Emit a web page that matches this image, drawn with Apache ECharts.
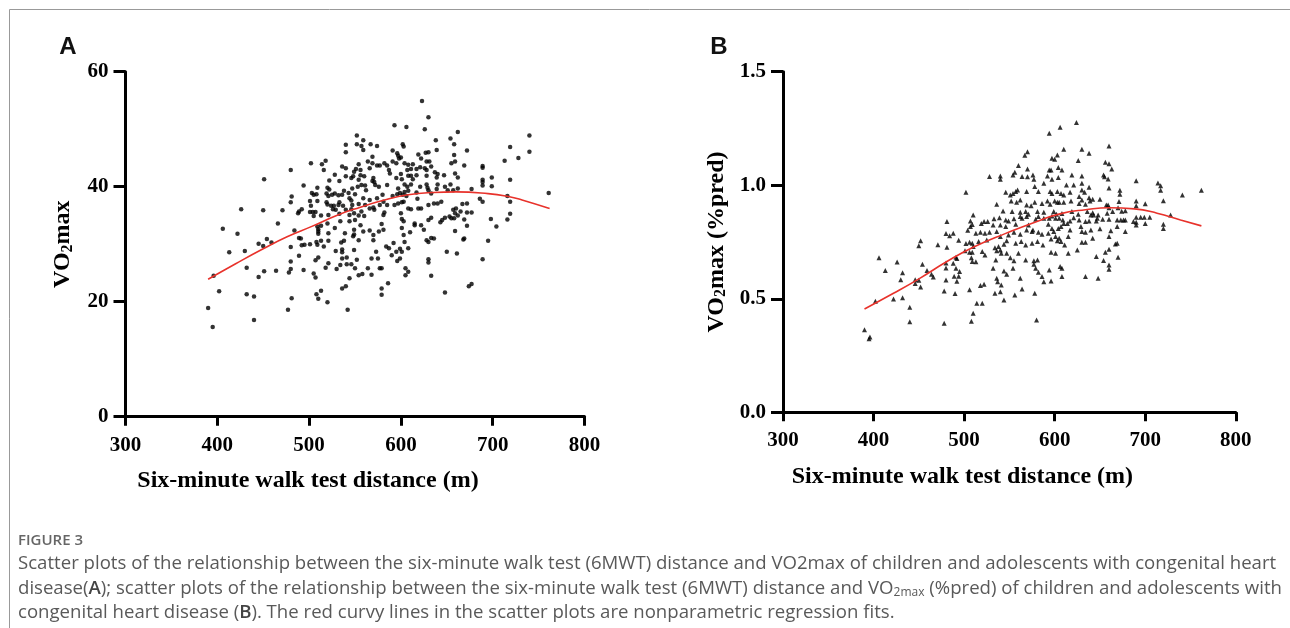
<!DOCTYPE html>
<html>
<head>
<meta charset="utf-8">
<title>Figure 3</title>
<script src="https://cdn.jsdelivr.net/npm/echarts@6/dist/echarts.min.js"></script>
<style>
  html, body { margin: 0; padding: 0; background: #fff; }
  #chart { width: 1290px; height: 628px; }
</style>
</head>
<body>
<div id="chart"></div>
<script>
// six-minute walk distance (m) vs VO2max, panel A
var pointsA = [
  [451,41.3],[426,36.1],[450,35.9],[406,32.7],[422,31.8],[445,30.1],[450,29.7],[413,28.6],[430,28.8],[432,25.9],
  [451,25.3],[396,24.5],[445,24.3],[402,21.8],[432,21.3],[440,20.9],[390,18.9],[440,16.8],[395,15.6],
  [552,48.9],[540,47.3],[552,47.4],[557,47.1],[540,46.0],[502,44.1],[514,43.9],[518,44.5],[536,43.5],[540,43.2],
  [554,43.9],[551,43.1],[480,42.9],[516,42.9],[549,42.6],[556,42.9],[528,42.1],[540,41.8],[546,41.5],[548,41.8],
  [556,42.0],[522,41.1],[533,41.0],[554,41.2],[494,40.2],[509,39.8],[520,39.8],[522,39.5],[538,39.3],[547,39.7],
  [553,40.0],[557,40.3],[503,38.9],[508,38.7],[519,38.8],[528,38.8],[536,38.6],[543,38.9],[550,38.7],[481,38.3],
  [505,38.6],[521,38.4],[525,38.6],[532,38.5],[544,38.0],[480,37.3],[501,37.5],[509,37.5],[519,37.3],[533,37.3],
  [546,37.6],[554,37.0],[502,36.7],[520,36.9],[524,36.7],[527,36.7],[532,36.8],[537,36.7],[547,36.8],[471,35.9],
  [492,36.1],[489,35.7],[488,35.4],[501,35.6],[504,35.6],[507,35.6],[540,36.0],[546,36.1],[557,35.7],[526,36.1],
  [529,36.0],[505,34.9],[513,35.0],[521,35.1],[533,35.3],[544,35.1],[549,35.4],[554,35.0],[466,33.6],[520,33.6],
  [534,34.0],[544,34.0],[550,34.2],[509,33.1],[513,33.2],[484,32.4],[510,32.6],[510,32.2],[528,32.8],[549,32.5],
  [556,33.3],[489,31.1],[491,31.0],[510,31.8],[521,31.9],[539,31.9],[549,31.7],[548,31.4],[554,30.7],[454,30.9],
  [459,30.3],[508,30.4],[513,30.6],[521,30.6],[535,30.3],[538,30.6],[492,29.8],[495,29.9],[501,30.0],[516,29.6],
  [509,29.9],[536,29.1],[536,28.6],[549,29.0],[529,28.8],[480,29.5],[489,28.0],[510,27.7],[507,27.2],[536,27.5],
  [541,27.7],[480,27.0],[521,26.7],[518,25.9],[530,25.7],[534,26.4],[541,26.5],[546,26.5],[552,27.3],[550,25.8],
  [464,25.4],[478,25.1],[480,25.7],[494,25.5],[505,24.9],[507,24.2],[554,24.6],[558,24.8],[544,24.1],[540,22.7],
  [536,22.3],[513,21.9],[508,21.3],[510,20.5],[520,19.9],[481,20.6],[477,18.6],[542,18.6],
  [623,54.9],[630,52.1],[593,50.7],[606,50.4],[626,50.0],[662,49.5],[559,48.1],[638,48.1],[654,48.4],[567,47.4],
  [574,47.1],[602,47.4],[603,47.0],[658,47.4],[559,46.4],[591,46.3],[596,45.8],[619,45.6],[627,45.9],[630,46.0],
  [639,46.4],[569,45.2],[597,45.4],[598,44.9],[600,45.1],[658,45.5],[564,44.4],[569,44.1],[574,43.7],[582,44.1],
  [585,43.7],[591,44.4],[595,44.1],[604,44.1],[608,43.8],[613,43.9],[622,44.9],[628,44.4],[631,44.4],[633,43.5],
  [655,44.1],[659,44.4],[566,43.2],[577,43.7],[587,42.9],[588,42.3],[600,42.2],[607,42.9],[611,43.1],[617,43.1],
  [621,43.4],[626,43.2],[628,42.9],[637,42.5],[640,42.2],[647,42.0],[659,42.3],[560,41.8],[569,41.0],[570,41.5],
  [571,40.8],[595,41.5],[601,41.3],[608,41.9],[611,41.9],[613,41.3],[617,42.0],[628,41.9],[639,41.6],[662,41.6],
  [561,40.2],[562,39.4],[572,40.3],[576,40.0],[585,40.3],[597,39.7],[604,40.4],[607,40.0],[611,40.4],[621,40.0],
  [628,40.4],[629,39.8],[630,39.4],[640,40.4],[648,40.0],[651,39.4],[654,40.4],[657,39.4],[662,39.7],[559,38.0],
  [566,37.7],[574,38.0],[580,38.6],[591,38.4],[596,38.7],[599,38.9],[602,38.6],[604,39.1],[606,38.4],[608,39.3],
  [617,39.0],[633,38.8],[639,39.6],[561,36.8],[566,36.2],[570,36.4],[571,36.0],[577,36.8],[581,37.4],[585,36.8],
  [593,36.8],[597,37.1],[601,37.3],[603,37.4],[608,36.2],[611,36.1],[618,37.9],[619,36.2],[622,36.2],[630,36.8],
  [636,37.1],[640,37.1],[644,37.4],[657,36.0],[660,36.2],[560,34.9],[581,35.1],[582,35.5],[600,35.4],[601,34.4],
  [603,34.0],[615,33.6],[622,33.3],[630,34.2],[633,34.6],[643,33.8],[645,34.2],[648,34.6],[653,34.8],[655,34.5],
  [658,34.5],[659,35.4],[662,35.0],[559,32.2],[566,32.4],[570,31.6],[570,30.7],[576,32.2],[581,32.5],[579,33.5],
  [601,32.8],[603,31.6],[610,32.1],[615,33.3],[625,32.5],[628,30.7],[630,30.4],[633,31.1],[636,31.0],[659,32.3],
  [584,29.6],[587,29.3],[592,30.2],[595,28.7],[599,29.2],[601,28.7],[604,30.4],[608,29.3],[573,28.7],[568,27.5],
  [590,28.1],[575,27.5],[577,25.8],[579,25.8],[596,27.1],[599,27.5],[605,25.8],[608,25.2],[605,24.6],[564,25.8],
  [568,24.7],[630,27.4],[630,26.8],[633,24.5],[579,22.3],[586,23.2],[579,21.2],[648,21.6],[650,28.7],[661,28.4],
  [740,48.9],[719,46.9],[740,46.1],[672,46.3],[728,45.0],[713,44.5],[669,43.7],[689,43.6],[689,43.3],[699,41.6],
  [689,41.2],[689,40.8],[719,41.2],[689,40.2],[699,40.1],[677,39.6],[761,38.9],[716,38.4],[686,37.9],[689,37.4],
  [719,37.4],[667,37.0],[672,37.1],[665,35.7],[672,35.5],[677,35.5],[719,35.3],[669,34.3],[698,34.4],[716,34.3],
  [672,33.2],[704,33.1],[669,31.0],[668,30.8],[695,30.6],[689,27.4],[674,22.7],[677,23.1]
];

// panel B: VO2max (%pred)
var pointsB = [
  [502,0.969],[481,0.840],[507,0.843],[510,0.869],[480,0.787],[484,0.778],[488,0.788],[507,0.818],[509,0.827],[504,0.802],
  [452,0.756],[450,0.734],[471,0.738],[481,0.727],[494,0.758],[502,0.743],[506,0.749],[509,0.744],[510,0.730],[501,0.712],
  [506,0.705],[509,0.705],[406,0.681],[426,0.662],[491,0.683],[492,0.677],[480,0.658],[488,0.656],[509,0.664],[508,0.681],
  [413,0.624],[432,0.615],[454,0.652],[459,0.624],[464,0.608],[466,0.596],[480,0.636],[491,0.634],[495,0.620],[430,0.584],
  [446,0.584],[450,0.581],[446,0.567],[480,0.583],[489,0.599],[494,0.599],[492,0.577],[452,0.552],[506,0.540],[478,0.534],
  [490,0.523],[402,0.489],[422,0.499],[432,0.504],[440,0.463],[510,0.436],[440,0.399],[478,0.392],[508,0.401],[390,0.364],
  [395,0.324],[396,0.332],
  [624,1.276],[606,1.255],[594,1.229],[630,1.158],[610,1.158],[626,1.109],[567,1.132],[570,1.148],[597,1.119],[600,1.114],
  [603,1.133],[528,1.038],[540,1.041],[540,1.026],[554,1.045],[556,1.057],[560,1.087],[564,1.038],[570,1.072],[570,1.037],
  [576,1.045],[577,1.026],[588,1.009],[592,1.041],[594,1.067],[596,1.067],[597,1.026],[604,1.078],[608,1.067],[604,1.034],
  [613,1.001],[619,1.045],[621,1.001],[630,1.041],[630,1.009],[630,0.979],[546,0.969],[551,0.957],[554,0.964],[557,0.972],
  [559,0.979],[569,0.972],[578,0.994],[582,0.972],[595,0.972],[597,0.964],[603,0.972],[607,0.964],[610,0.957],[617,0.969],
  [627,0.950],[633,0.969],[536,0.916],[552,0.931],[558,0.925],[562,0.935],[569,0.913],[574,0.910],[578,0.925],[586,0.920],
  [592,0.931],[595,0.916],[600,0.931],[603,0.925],[605,0.925],[610,0.925],[618,0.931],[627,0.920],[630,0.935],[634,0.916],
  [543,0.887],[553,0.884],[562,0.881],[568,0.884],[571,0.872],[581,0.884],[588,0.881],[599,0.884],[602,0.872],[608,0.876],
  [619,0.884],[626,0.872],[522,0.840],[526,0.840],[519,0.832],[533,0.852],[539,0.857],[546,0.847],[549,0.843],[555,0.852],
  [562,0.862],[564,0.855],[569,0.862],[579,0.850],[582,0.862],[588,0.855],[594,0.855],[597,0.865],[601,0.855],[605,0.855],
  [609,0.847],[614,0.832],[617,0.843],[621,0.857],[627,0.847],[629,0.818],[634,0.840],[532,0.825],[540,0.825],[546,0.818],
  [557,0.828],[571,0.825],[576,0.803],[582,0.793],[593,0.828],[597,0.810],[604,0.810],[607,0.818],[599,0.796],[610,0.832],
  [617,0.803],[513,0.788],[518,0.793],[523,0.788],[528,0.793],[536,0.796],[540,0.774],[549,0.781],[555,0.793],[562,0.784],
  [569,0.803],[575,0.796],[586,0.784],[593,0.788],[601,0.774],[605,0.766],[615,0.774],[630,0.796],[634,0.793],[516,0.752],
  [525,0.759],[534,0.725],[538,0.730],[544,0.740],[547,0.755],[557,0.744],[563,0.752],[568,0.737],[575,0.744],[581,0.752],
  [587,0.737],[596,0.763],[603,0.755],[607,0.752],[611,0.737],[625,0.715],[630,0.749],[634,0.749],[520,0.708],[523,0.693],
  [536,0.711],[540,0.715],[541,0.700],[547,0.700],[551,0.681],[555,0.667],[560,0.700],[568,0.671],[577,0.667],[581,0.671],
  [596,0.705],[601,0.700],[606,0.642],[608,0.634],[615,0.700],[513,0.663],[535,0.671],[544,0.622],[532,0.634],[547,0.608],
  [554,0.634],[562,0.590],[577,0.652],[579,0.634],[582,0.617],[586,0.598],[588,0.575],[594,0.627],[596,0.578],[608,0.598],
  [634,0.598],[518,0.558],[522,0.564],[536,0.590],[537,0.575],[541,0.561],[534,0.524],[540,0.531],[544,0.495],[564,0.543],
  [556,0.517],[578,0.524],[514,0.480],[520,0.480],[580,0.407],
  [660,1.173],[638,1.141],[656,1.101],[660,1.095],[663,1.072],[654,1.045],[655,1.037],[659,1.028],[690,1.020],[714,1.010],
  [717,0.998],[717,0.978],[638,0.991],[660,0.988],[672,0.978],[672,0.960],[741,0.957],[762,0.978],[638,0.945],[642,0.938],
  [650,0.938],[639,0.931],[671,0.928],[690,0.931],[690,0.910],[700,0.919],[720,0.932],[657,0.913],[659,0.913],[660,0.901],
  [670,0.901],[674,0.885],[678,0.888],[664,0.884],[658,0.877],[636,0.884],[640,0.869],[643,0.869],[648,0.869],[642,0.879],
  [647,0.855],[653,0.850],[660,0.850],[669,0.847],[673,0.847],[676,0.847],[678,0.847],[690,0.859],[695,0.859],[699,0.859],
  [705,0.859],[687,0.840],[690,0.837],[690,0.825],[700,0.832],[728,0.869],[720,0.828],[720,0.810],[638,0.843],[646,0.843],
  [669,0.818],[640,0.803],[650,0.808],[662,0.799],[678,0.796],[660,0.774],[642,0.766],[667,0.741],[669,0.744],[660,0.718],
  [656,0.705],[646,0.686],[670,0.683],[654,0.668],[660,0.649],[660,0.630],[648,0.590]
];

// red nonparametric fits
var fitA = [[390,23.9],[420,26.6],[450,29.2],[476,31.3],[503,33.1],[530,35.0],[555,36.4],[580,37.6],
  [608,38.6],[635,39.0],[660,39.1],[695,38.8],[717,38.3],[732,37.7],[762,36.2]];
var fitB = [[390,0.455],[422,0.524],[451,0.590],[481,0.664],[510,0.727],[546,0.788],[582,0.843],[608,0.876],
  [634,0.892],[660,0.901],[688,0.896],[713,0.877],[739,0.847],[762,0.821]];

var xTicks = [300, 800, 100];      // min, max, step
var yTicksA = [0, 60, 20];
var yTicksB = [0, 1.5, 0.5];

var serif = 'Liberation Serif';
var tickFont = { fontFamily: serif, fontWeight: 'bold', fontSize: 21, color: '#000' };
var titleFont = { fontFamily: serif, fontWeight: 'bold', fontSize: 24, color: '#000' };

function xAxisFor(idx) {
  return {
    gridIndex: idx, type: 'value', min: xTicks[0], max: xTicks[1], interval: xTicks[2],
    axisLine: { lineStyle: { color: '#000', width: 3 } },
    axisTick: { length: 9, lineStyle: { color: '#000', width: 3 } },
    axisLabel: Object.assign({ margin: 18 }, tickFont),
    splitLine: { show: false },
    name: 'Six-minute walk test distance (m)',
    nameLocation: 'middle', nameGap: 52,
    nameTextStyle: Object.assign({ padding: [0, 94, 0, 0] }, titleFont)
  };
}

function yAxisFor(idx, ticks, name, gap, fmt) {
  return {
    gridIndex: idx, type: 'value', min: ticks[0], max: ticks[1], interval: ticks[2],
    axisLine: { show: true, lineStyle: { color: '#000', width: 3 } },
    axisTick: { show: true, length: 12, lineStyle: { color: '#000', width: 3 } },
    axisLabel: Object.assign({ margin: 17, formatter: fmt }, tickFont),
    splitLine: { show: false },
    name: name, nameLocation: 'middle', nameGap: gap, nameRotate: 90,
    nameTextStyle: Object.assign({
      rich: {
        sub: { fontFamily: serif, fontWeight: 'bold', fontSize: 16, color: '#000', padding: [9, 0, 0, 0] }
      }
    }, titleFont)
  };
}

var capFont = 'Open Sans';
var capColor = '#595959';
var capSize = 18.6;
var capRich = {
  b: { fontFamily: capFont, fontSize: capSize, fontWeight: 600, fill: '#444' },
  sub: { fontFamily: capFont, fontSize: 12, fill: capColor, padding: [8, 0, 0, 0] }
};

function capLine(y, text) {
  return {
    type: 'text', x: 18, y: y,
    style: { text: text, fontFamily: capFont, fontSize: capSize, fill: capColor, verticalAlign: 'middle', rich: capRich }
  };
}

var chart = echarts.init(document.getElementById('chart'), null, { renderer: 'canvas' });
chart.setOption({
  animation: false,
  backgroundColor: '#fff',
  grid: [
    { left: 125.5, top: 71.7, width: 459, height: 345 },
    { left: 783, top: 71.7, width: 452.8, height: 340.6 }
  ],
  xAxis: [xAxisFor(0), xAxisFor(1)],
  yAxis: [
    yAxisFor(0, yTicksA, 'VO{sub|2}max', 50),
    yAxisFor(1, yTicksB, 'VO{sub|2}max (%pred)', 54, function (v) { return v.toFixed(1); })
  ],
  series: [
    { type: 'scatter', xAxisIndex: 0, yAxisIndex: 0, data: pointsA, symbol: 'circle', symbolSize: 4.5,
      itemStyle: { color: '#000' } },
    { type: 'line', xAxisIndex: 0, yAxisIndex: 0, data: fitA, smooth: true, showSymbol: false, z: 5,
      lineStyle: { color: '#e8322b', width: 1.6 } },
    { type: 'scatter', xAxisIndex: 1, yAxisIndex: 1, data: pointsB, symbol: 'triangle', symbolSize: 5,
      itemStyle: { color: '#000' } },
    { type: 'line', xAxisIndex: 1, yAxisIndex: 1, data: fitB, smooth: true, showSymbol: false, z: 5,
      lineStyle: { color: '#e8322b', width: 1.6 } }
  ],
  graphic: [
    { type: 'line', shape: { x1: 9.5, y1: 9.5, x2: 1290, y2: 9.5 }, style: { stroke: '#999', lineWidth: 1 } },
    { type: 'line', shape: { x1: 9.5, y1: 9.5, x2: 9.5, y2: 628 }, style: { stroke: '#999', lineWidth: 1 } },
    { type: 'text', x: 68, y: 47,
      style: { text: 'A', fontFamily: 'Liberation Sans', fontWeight: 'bold', fontSize: 24, fill: '#111',
               align: 'center', verticalAlign: 'middle' } },
    { type: 'text', x: 719, y: 47,
      style: { text: 'B', fontFamily: 'Liberation Sans', fontWeight: 'bold', fontSize: 24, fill: '#111',
               align: 'center', verticalAlign: 'middle' } },
    { type: 'text', x: 18, y: 541,
      style: { text: 'FIGURE 3', fontFamily: capFont, fontWeight: 600, fontSize: 15, fill: '#666',
               verticalAlign: 'middle' } },
    capLine(564, 'Scatter plots of the relationship between the six-minute walk test (6MWT) distance and VO2max of children and adolescents with congenital heart'),
    capLine(589, 'disease({b|A}); scatter plots of the relationship between the six-minute walk test (6MWT) distance and VO{sub|2max} (%pred) of children and adolescents with'),
    capLine(613, 'congenital heart disease ({b|B}). The red curvy lines in the scatter plots are nonparametric regression fits.')
  ]
});
</script>
</body>
</html>
